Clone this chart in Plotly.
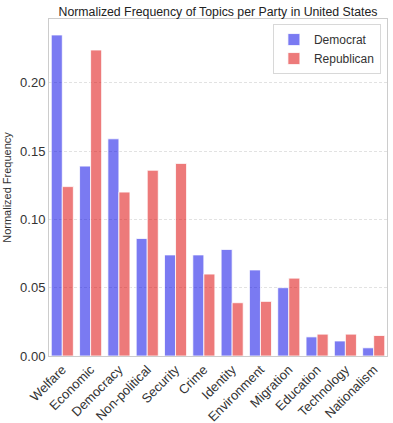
import plotly.graph_objects as go

topics = ["Welfare", "Economic", "Democracy", "Non-political", "Security", "Crime",
          "Identity", "Environment", "Migration", "Education", "Technology", "Nationalism"]
democrat = [0.235, 0.139, 0.159, 0.086, 0.074, 0.074, 0.078, 0.063, 0.050, 0.014, 0.011, 0.006]
republican = [0.124, 0.224, 0.120, 0.136, 0.141, 0.060, 0.039, 0.040, 0.057, 0.016, 0.016, 0.015]

fig = go.Figure()
fig.add_trace(go.Bar(x=topics, y=democrat, name="Democrat",
                     marker=dict(color="rgba(0,0,230,0.52)", line=dict(color="white", width=0.8))))
fig.add_trace(go.Bar(x=topics, y=republican, name="Republican",
                     marker=dict(color="rgba(220,0,0,0.52)", line=dict(color="white", width=0.8))))

fig.update_layout(
    width=393, height=423,
    margin=dict(l=49, r=6, t=19, b=67, autoexpand=False),
    paper_bgcolor="white", plot_bgcolor="white",
    font=dict(family="Liberation Sans, Arial, sans-serif", color="#333333", size=12),
    title=dict(text="Normalized Frequency of Topics per Party in United States",
               x=0.5, xref="paper", xanchor="center", y=0.983, yanchor="top",
               font=dict(size=12.3, color="#222222")),
    barmode="group", bargap=0.22, bargroupgap=0,
    legend=dict(x=0.982, y=0.985, xanchor="right", yanchor="top", bgcolor="white",
                bordercolor="#d8d8d8", borderwidth=1, tracegroupgap=0,
                font=dict(size=12, color="#333333")),
    showlegend=True,
)
fig.update_xaxes(range=[-0.47, 11.47], tickangle=-45, tickfont=dict(size=13), automargin=False,
                 showline=True, mirror=True, linecolor="#cccccc", linewidth=1,
                 showgrid=False, ticks="")
fig.update_yaxes(range=[0, 0.2467], tickvals=[0, 0.05, 0.10, 0.15, 0.20], automargin=False,
                 ticktext=["0.00", "0.05", "0.10", "0.15", "0.20"], tickfont=dict(size=13),
                 title=dict(text="Normalized Frequency", font=dict(size=11), standoff=6),
                 showline=True, mirror=True, linecolor="#cccccc", linewidth=1,
                 showgrid=True, gridcolor="#e2e2e2", griddash="3px,2px", zeroline=False, ticks="")

fig.write_html("out.html", config={"displayModeBar": False},
               post_script="document.body.style.margin='0';")
